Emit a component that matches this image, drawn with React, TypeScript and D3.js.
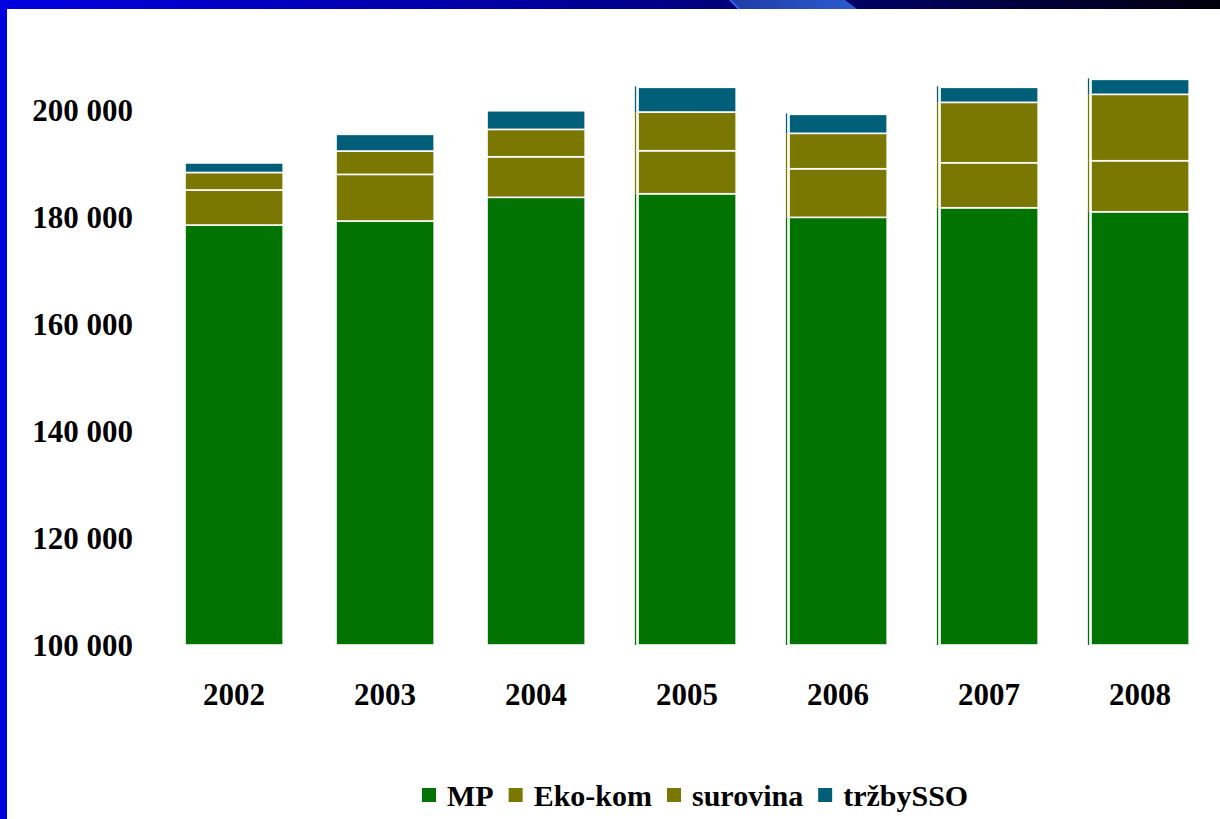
import React, { useEffect, useRef } from "react";
import * as d3 from "d3";

const years = ["2002", "2003", "2004", "2005", "2006", "2007", "2008"];
const seriesNames = ["MP", "Eko-kom", "surovina", "tržbySSO"];
const seriesColors = ["#007300", "#7a7800", "#7a7800", "#005f78"];
const mpValues = [178500, 179250, 183680, 184350, 179940, 181730, 180980];
const ekoKomValues = [6550, 8720, 7580, 8040, 9080, 8410, 9540];
const surovinaValues = [3270, 4360, 5120, 7230, 6620, 11290, 12410];
const trzbyValues = [1780, 3120, 3480, 4620, 3550, 2810, 2800];
const yTicks = [100000, 120000, 140000, 160000, 180000, 200000];
const yDomain = [100000, 200000];
const edgeLineYears = ["2005", "2006", "2007", "2008"];

export default function App() {
  const ref = useRef<SVGSVGElement | null>(null);

  useEffect(() => {
    const svg = d3.select(ref.current);
    svg.selectAll("*").remove();
    const W = 1220, H = 819;
    const font = "'Liberation Serif', 'Times New Roman', serif";

    const defs = svg.append("defs");
    const g1 = defs.append("linearGradient").attr("id", "topgrad").attr("x1", "0").attr("x2", "1").attr("y1", "0").attr("y2", "0");
    g1.append("stop").attr("offset", "0").attr("stop-color", "#0000e0");
    g1.append("stop").attr("offset", "0.45").attr("stop-color", "#00009c");
    g1.append("stop").attr("offset", "0.75").attr("stop-color", "#000058");
    g1.append("stop").attr("offset", "1").attr("stop-color", "#00000c");
    const g2 = defs.append("linearGradient").attr("id", "paragrad").attr("x1", "0").attr("x2", "1");
    g2.append("stop").attr("offset", "0").attr("stop-color", "#1e3ca6");
    g2.append("stop").attr("offset", "1").attr("stop-color", "#2d5ad0");

    svg.append("rect").attr("x", 0).attr("y", 0).attr("width", W).attr("height", H).attr("fill", "#fff");
    svg.append("rect").attr("x", 0).attr("y", 0).attr("width", W).attr("height", 9).attr("fill", "url(#topgrad)");
    svg.append("polygon").attr("points", "730,0 845,0 857,9 739,9").attr("fill", "url(#paragrad)");
    svg.append("line").attr("x1", 730).attr("y1", 0).attr("x2", 739).attr("y2", 9).attr("stroke", "#3a6dff").attr("stroke-width", 1.5);
    svg.append("rect").attr("x", 0).attr("y", 0).attr("width", 7).attr("height", H).attr("fill", "#0000e0");

    const x = d3.scaleBand<string>().domain(years).range([158.6, 1215.6]).paddingInner(0.35).paddingOuter(0.175);
    const y = d3.scaleLinear().domain(yDomain).range([645, 110]);
    const yc = (v: number) => y(Math.max(v, yDomain[0]));

    const locale = d3.formatLocale({ decimal: ",", thousands: " ", grouping: [3], currency: ["", " Kč"] });
    const fmt = locale.format(",d");

    svg.append("g").selectAll("text").data(yTicks).join("text")
      .attr("x", 133).attr("y", (d) => y(d))
      .attr("text-anchor", "end").attr("dominant-baseline", "central")
      .attr("font-family", font).attr("font-weight", "bold").attr("font-size", 31)
      .attr("fill", "#000").text((d) => fmt(d));

    const rows = years.map((yr, i) => ({ year: yr, MP: mpValues[i], "Eko-kom": ekoKomValues[i], surovina: surovinaValues[i], "tržbySSO": trzbyValues[i] }));
    const stacked = d3.stack<any>().keys(seriesNames)(rows);

    const bars = svg.append("g");
    stacked.forEach((layer, li) => {
      const lg = bars.append("g");
      lg.selectAll("rect").data(layer).join("rect")
        .attr("x", (d: any) => x(d.data.year)!)
        .attr("width", x.bandwidth())
        .attr("y", (d: any) => yc(d[1]))
        .attr("height", (d: any) => Math.max(0, yc(d[0]) - yc(d[1])))
        .attr("fill", seriesColors[li])
        .attr("stroke", "#ffffff").attr("stroke-width", 1.6);
      lg.selectAll("line").data(layer.filter((d: any) => edgeLineYears.includes(d.data.year))).join("line")
        .attr("x1", (d: any) => x(d.data.year)! - 2.5)
        .attr("x2", (d: any) => x(d.data.year)! - 2.5)
        .attr("y1", (d: any) => yc(d[1]) - (li === seriesNames.length - 1 ? 1 : 0))
        .attr("y2", (d: any) => yc(d[0]))
        .attr("stroke", seriesColors[li]).attr("stroke-width", 1.3);
    });

    svg.append("g").selectAll("text").data(years).join("text")
      .attr("x", (d) => x(d)! + x.bandwidth() / 2).attr("y", 694)
      .attr("text-anchor", "middle").attr("dominant-baseline", "central")
      .attr("font-family", font).attr("font-weight", "bold").attr("font-size", 31)
      .attr("fill", "#000").text((d) => d);

    const legend = svg.append("g");
    let lx = 422;
    const ly = 795;
    seriesNames.forEach((name, i) => {
      legend.append("rect").attr("x", lx).attr("y", ly - 7).attr("width", 14).attr("height", 14)
        .attr("fill", seriesColors[i]);
      const t = legend.append("text").attr("x", lx + 25).attr("y", ly)
        .attr("dominant-baseline", "central")
        .attr("font-family", font).attr("font-weight", "bold").attr("font-size", 30)
        .attr("fill", "#000").text(name);
      const w = (t.node() as SVGTextElement).getComputedTextLength();
      lx = lx + 25 + w + 15;
    });
  }, []);

  return (
    <svg ref={ref} width={1220} height={819} style={{ position: "absolute", left: 0, top: 0, display: "block" }} />
  );
}
